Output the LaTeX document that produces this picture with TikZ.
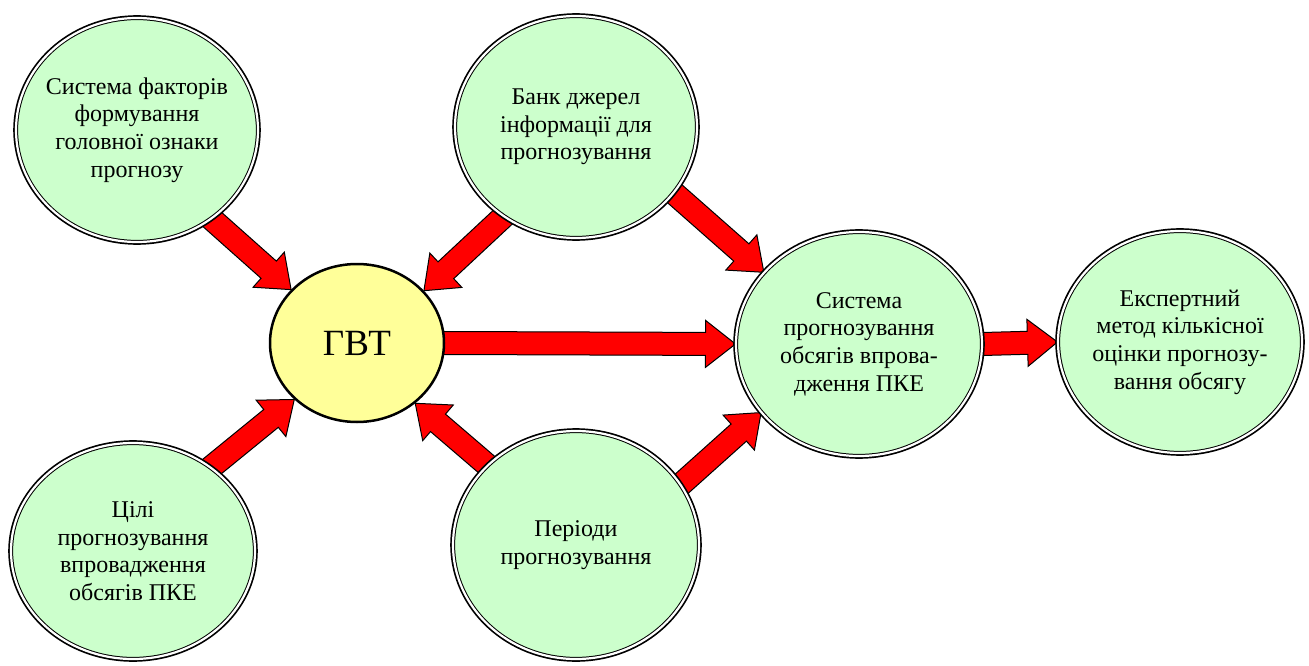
\documentclass[tikz,border=0pt]{standalone}
\usepackage{fontspec}
\setmainfont{Liberation Serif}
\usepackage{tikz}
\usetikzlibrary{shapes.geometric,calc}
\definecolor{mint}{HTML}{CCFFCC}
\definecolor{lemon}{HTML}{FFFF99}
\pgfdeclarelayer{back}
\pgfsetlayers{back,main}
\tikzset{
  bubble/.style={ellipse, fill=mint, draw=black, line width=1pt, double=white,
    double distance=2.2pt, preaction={draw=black, line width=5.6pt},
    inner sep=-40pt, align=center, font=\fontsize{24}{27.6}\selectfont},
  hub/.style={ellipse, fill=lemon, draw=black, line width=2.5pt, inner sep=0pt,
    font=\fontsize{37}{40}\selectfont},
  fatarrow/.style={fill=red, draw=black, line width=1pt, line join=miter}
}
% block arrow between two border points
\newcommand{\fatarrow}[2]{%
  \coordinate (fa-s) at ($(#1)!-8pt!(#2)$);
  \coordinate (fa-h) at ($(#2)!30pt!(#1)$);
  \draw[fatarrow] ($(fa-s)!11.5pt!90:(#2)$) -- ($(fa-h)!11.5pt!90:(#2)$)
    -- ($(fa-h)!23.5pt!90:(#2)$) -- (#2) -- ($(fa-h)!23.5pt!-90:(#2)$)
    -- ($(fa-h)!11.5pt!-90:(#2)$) -- ($(fa-s)!11.5pt!-90:(#2)$) -- cycle;
}

\begin{document}
\begin{tikzpicture}[x=1pt,y=-1pt,line cap=round,line join=round]
\useasboundingbox (0,0) rectangle (1309,666);

\node[hub, minimum width=174, minimum height=158] (gvt) at (357,343) {ГВТ};
\node[bubble, minimum width=242, minimum height=224] (factors) at (137,130)
  {Система факторів\\формування\\головної ознаки\\прогнозу};
\node[bubble, minimum width=242, minimum height=222] (bank) at (576,127)
  {Банк джерел\\інформації для\\прогнозування};
\node[bubble, minimum width=244, minimum height=216] (goals) at (133,551)
  {Цілі\\прогнозування\\впровадження\\обсягів ПКЕ};
\node[bubble, minimum width=246, minimum height=228] (periods) at (576,545)
  {Періоди\\прогнозування};
\node[bubble, minimum width=246, minimum height=224] (system) at (859,344)
  {Система\\прогнозування\\обсягів впрова-\\дження ПКЕ};
\node[bubble, minimum width=244, minimum height=222] (expert) at (1180,342)
  {Експертний\\метод кількісної\\оцінки прогнозу-\\вання обсягу};

\begin{pgfonlayer}{back}
\fatarrow{factors.-50}{gvt.141}
\fatarrow{bank.-129}{gvt.38}
\fatarrow{bank.-34}{system.143}
\fatarrow{gvt.east}{system.west}
\fatarrow{system.east}{expert.west}
\fatarrow{goals.47}{gvt.-138}
\fatarrow{periods.138}{gvt.-46}
\fatarrow{periods.30}{system.-145}
\end{pgfonlayer}
\end{tikzpicture}
\end{document}
